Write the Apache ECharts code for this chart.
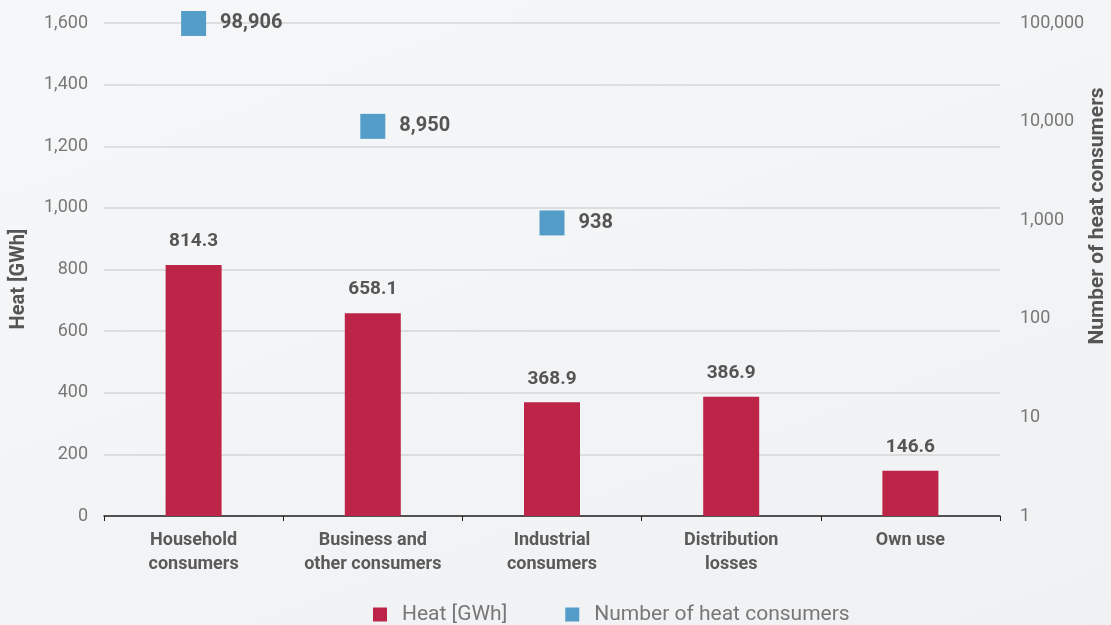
<!DOCTYPE html>
<html><head><meta charset="utf-8">
<script src="https://cdn.jsdelivr.net/npm/echarts@6/dist/echarts.min.js"></script>
<style>html,body{margin:0;padding:0;}#c{width:1111px;height:625px;background:linear-gradient(160deg,#f6f7f8,#f0f1f2);}</style>
</head><body><div id="c"></div>
<script>
const categories = ['Household\nconsumers', 'Business and\nother consumers', 'Industrial\nconsumers', 'Distribution\nlosses', 'Own use'];
const heatGWh = [814.3, 658.1, 368.9, 386.9, 146.6];
const consumers = [98906, 8950, 938, null, null];
const leftTicks = [0, 1600, 200];
const rightRange = [1, 100000];

const FONT = 'Roboto';
const chart = echarts.init(document.getElementById('c'));
const fmt = v => Number(v).toLocaleString('en-US');
chart.setOption({
  backgroundColor: 'transparent',
  textStyle: { fontFamily: FONT },
  grid: { left: 104, right: 111, top: 23, bottom: 109 },
  legend: {
    bottom: -5, left: 368, itemGap: 58, itemWidth: 14, itemHeight: 14,
    icon: 'rect', textStyle: { fontSize: 21, color: '#777', fontFamily: FONT, padding: [0, 0, 0, 10] },
    data: ['Heat [GWh]', 'Number of heat consumers']
  },
  xAxis: {
    type: 'category', data: categories,
    axisLine: { lineStyle: { color: '#222', width: 1.5 } },
    axisTick: { show: true, length: 5, lineStyle: { color: '#222' } },
    axisLabel: { fontSize: 18, fontWeight: 'bold', color: '#5a5a5a', lineHeight: 24, margin: 12 }
  },
  yAxis: [{
    type: 'value', min: leftTicks[0], max: leftTicks[1], interval: leftTicks[2],
    axisLine: { show: false }, axisTick: { show: false },
    axisLabel: { fontSize: 18, color: '#777', margin: 16, formatter: fmt },
    splitLine: { lineStyle: { color: '#d6d6d6', width: 1.5 } }
  }, {
    type: 'log', logBase: 10, min: rightRange[0], max: rightRange[1], position: 'right',
    axisLine: { show: false }, axisTick: { show: false },
    axisLabel: { fontSize: 18, color: '#777', margin: 20, formatter: fmt },
    splitLine: { show: false }
  }],
  graphic: [{
    type: 'text', x: 19, y: 279, rotation: Math.PI / 2,
    style: { text: 'Heat [GWh]', fontSize: 20, fontWeight: 'bold', fill: '#555', fontFamily: FONT, align: 'center', verticalAlign: 'middle' }
  }, {
    type: 'text', x: 1098, y: 216, rotation: Math.PI / 2,
    style: { text: 'Number of heat consumers', fontSize: 21, fontWeight: 'bold', fill: '#555', fontFamily: FONT, align: 'center', verticalAlign: 'middle' }
  }],
  series: [{
    name: 'Heat [GWh]', type: 'bar', data: heatGWh, barWidth: 56,
    itemStyle: { color: '#bc2548' },
    label: { show: true, position: 'top', distance: 14, fontSize: 19, fontWeight: 'bold', color: '#555', formatter: p => p.value.toFixed(1) }
  }, {
    name: 'Number of heat consumers', type: 'scatter', yAxisIndex: 1, data: consumers,
    symbol: 'rect', symbolSize: 25, itemStyle: { color: '#559dc9', opacity: 1 },
    label: { show: true, position: 'right', distance: 14, fontSize: 20, fontWeight: 'bold', color: '#555', formatter: p => fmt(p.value) }
  }]
});
</script></body></html>
